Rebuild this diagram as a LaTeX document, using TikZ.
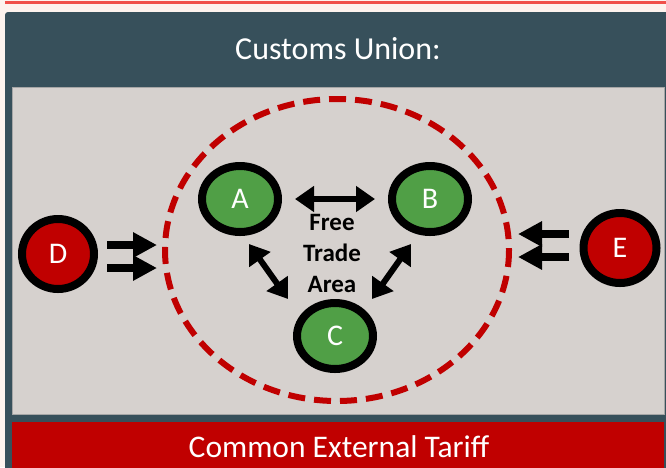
\documentclass[tikz,border=0pt]{standalone}
\usepackage{fontspec}
\setmainfont{Carlito}
\usetikzlibrary{shapes.geometric,arrows.meta}
\definecolor{peach}{HTML}{FDF3EE}
\definecolor{topred}{HTML}{F0504A}
\definecolor{slate}{HTML}{37505B}
\definecolor{panelgray}{HTML}{D6D1CE}
\definecolor{darkred}{HTML}{C00000}
\definecolor{leaf}{HTML}{509F46}
\tikzset{
  country/.style={ellipse, draw=black, line width=8pt, text=white,
    font=\fontsize{30}{33}\selectfont, inner sep=0pt},
  member/.style={country, fill=leaf, minimum width=76pt, minimum height=66pt},
  outsider/.style={country, fill=darkred, minimum width=72pt, minimum height=70pt},
  tradearrow/.style={line width=6pt, {Triangle[length=19pt,width=25pt]}-{Triangle[length=19pt,width=25pt]}},
  importarrow/.style={line width=8pt, -{Triangle[length=24pt,width=24pt]}},
}
\begin{document}
\begin{tikzpicture}[x=1pt,y=-1pt]
\useasboundingbox (0,0) rectangle (666,467);
\fill[peach] (0,0) rectangle (666,467);
\draw[topred, line width=3pt] (5,2) -- (666,2);
\fill[slate, rounded corners=3pt] (5,12) rectangle (670,475);
\node[text=white, font=\fontsize{32}{36}\selectfont] (title) at (338,49) {Customs Union:};
\filldraw[fill=panelgray, draw=gray!70, line width=1pt] (12,87) rectangle (664,414);
\fill[darkred] (12,422) rectangle (664,470);
\node[text=white, font=\fontsize{31.5}{36}\selectfont] (cet) at (339,447) {Common External Tariff};
% dashed circle
\draw[darkred, line width=6pt, dash pattern=on 17pt off 9pt] (337,250) ellipse [x radius=172, y radius=151];
% members
\node[member] (A) at (240,199) {A};
\node[member] (B) at (430,199) {B};
\node[member] (C) at (335,336) {C};
\node[outsider] (D) at (58,254) {D};
\node[outsider, minimum width=73pt] (E) at (620,248) {E};
\node[font=\fontsize{25}{31}\selectfont\bfseries, align=center] (fta) at (332,253) {Free\\Trade\\Area};
% trade arrows
\draw[tradearrow] ([xshift=13pt]A.east) -- ([xshift=-13pt]B.west);
\draw[tradearrow] (249,244) -- (288,299);
\draw[tradearrow] (411,244) -- (372,299);
% imports
\coordinate (d1) at (107,245); \coordinate (d1e) at (157,245);
\coordinate (d2) at (107,268); \coordinate (d2e) at (157,268);
\coordinate (e1) at (569,234); \coordinate (e1e) at (518,234);
\coordinate (e2) at (569,257); \coordinate (e2e) at (518,257);
\draw[importarrow] (d1) -- (d1e);
\draw[importarrow] (d2) -- (d2e);
\draw[importarrow] (e1) -- (e1e);
\draw[importarrow] (e2) -- (e2e);
\end{tikzpicture}
\end{document}
